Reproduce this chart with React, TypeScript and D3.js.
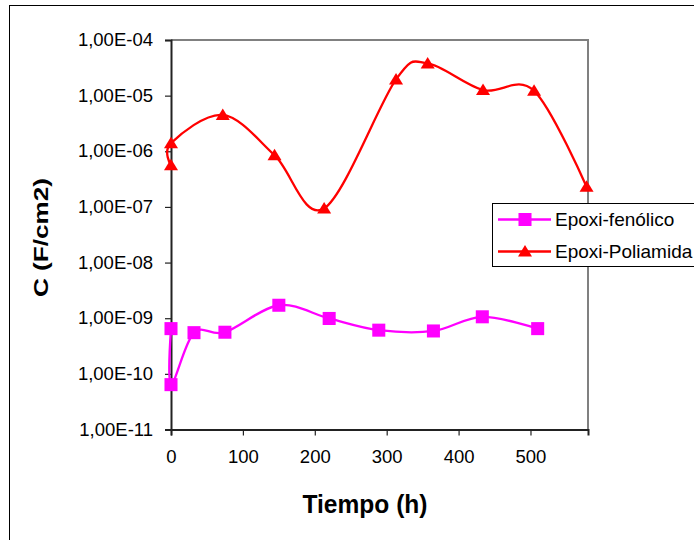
import React, { useEffect, useRef } from 'react'
import * as d3 from 'd3'

// time (h) and capacitance (F/cm2)
const fenolicoTime = [0, 0, 32, 75, 150, 220, 289, 365, 433, 510]
const fenolicoC = [6.5e-10, 6.4e-11, 5.5e-10, 5.6e-10, 1.71e-9, 9.9e-10, 6.1e-10, 5.9e-10, 1.06e-9, 6.5e-10]

const poliamidaTime = [0, 0, 72, 144, 213, 313, 357, 434, 505, 578]
const poliamidaC = [5.6e-7, 1.4e-6, 4.5e-6, 8.5e-7, 9.4e-8, 1.96e-5, 3.8e-5, 1.26e-5, 1.22e-5, 2.3e-7]

const xTicks = [0, 100, 200, 300, 400, 500]
const yTicks = [1e-11, 1e-10, 1e-9, 1e-8, 1e-7, 1e-6, 1e-5, 1e-4]

const seriesNames = ['Epoxi-fenólico', 'Epoxi-Poliamida']

const fmt = (d: number) => {
  const e = Math.round(Math.log10(d))
  const s = e < 0 ? '-' : '+'
  return `1,00E${s}${String(Math.abs(e)).padStart(2, '0')}`
}

export default function App() {
  const svgRef = useRef<SVGSVGElement>(null)

  useEffect(() => {
    const svg = d3.select(svgRef.current)
    svg.selectAll('*').remove()

    const width = 694
    const height = 540
    const left = 171, right = 588, top = 40, bottom = 429.5
    const font = '"Liberation Sans", Arial, sans-serif'

    svg.attr('width', width).attr('height', height)
    svg.append('rect').attr('width', width).attr('height', height).attr('fill', '#fff')

    // outer chart border (runs off the page right/bottom)
    svg.append('rect')
      .attr('x', 9.5).attr('y', 5.5)
      .attr('width', 720).attr('height', 600)
      .attr('fill', 'none').attr('stroke', '#000').attr('stroke-width', 1)

    const x = d3.scaleLinear().domain([0, 580]).range([left, right])
    const y = d3.scaleLog().domain([1e-11, 1e-4]).range([bottom, top])

    // plot area border (gray top/right)
    svg.append('path')
      .attr('d', `M${left},${top}H${right}V${bottom}`)
      .attr('fill', 'none').attr('stroke', '#808080').attr('stroke-width', 2)

    // y axis
    const yAxis = svg.append('g')
      .attr('transform', `translate(${left},0)`)
      .call(d3.axisLeft(y).tickValues(yTicks).tickFormat(d => fmt(+d)).tickSizeOuter(0).tickSize(6).tickPadding(12))
    yAxis.select('.domain').attr('stroke', '#222').attr('stroke-width', 2)
    yAxis.selectAll('.tick line').attr('stroke', '#222').attr('stroke-width', 1.2)
    yAxis.selectAll('.tick text')
      .attr('font-family', font).attr('font-size', 18.5).attr('fill', '#000')
      .attr('dy', '0.3em')

    // x axis
    const xAxis = svg.append('g')
      .attr('transform', `translate(0,${bottom})`)
      .call(d3.axisBottom(x).tickValues(xTicks).tickFormat(d3.format('d')).tickSizeOuter(0).tickSize(6).tickPadding(10))
    xAxis.select('.domain').attr('stroke', '#222').attr('stroke-width', 2)
    xAxis.selectAll('.tick line').attr('stroke', '#222').attr('stroke-width', 1.2)
    xAxis.selectAll('.tick text')
      .attr('font-family', font).attr('font-size', 18.5).attr('fill', '#000')
      .attr('dy', '0.95em')

    // axis titles
    svg.append('text')
      .attr('x', 365).attr('y', 513)
      .attr('text-anchor', 'middle')
      .attr('font-family', font).attr('font-weight', 'bold').attr('font-size', 25)
      .attr('textLength', 125).attr('lengthAdjust', 'spacingAndGlyphs')
      .text('Tiempo (h)')

    svg.append('text')
      .attr('transform', 'translate(48,237.5) rotate(-90)')
      .attr('text-anchor', 'middle')
      .attr('font-family', font).attr('font-weight', 'bold').attr('font-size', 21)
      .attr('textLength', 119).attr('lengthAdjust', 'spacingAndGlyphs')
      .text('C (F/cm2)')

    const line = d3.line<[number, number]>()
      .x(d => x(d[0]))
      .y(d => y(d[1]))
      .curve(d3.curveCatmullRom.alpha(0))

    const fenolico: [number, number][] = fenolicoTime.map((t, i) => [t, fenolicoC[i]])
    const poliamida: [number, number][] = poliamidaTime.map((t, i) => [t, poliamidaC[i]])

    const square = d3.symbol().type(d3.symbolSquare).size(170)()
    const triangle = 'M0,-6.5L7,5L-7,5Z'

    const series = [
      { name: seriesNames[0], data: fenolico, color: '#FF00FF', marker: square },
      { name: seriesNames[1], data: poliamida, color: '#FF0000', marker: triangle },
    ]

    series.forEach(s => {
      svg.append('path')
        .attr('d', line(s.data))
        .attr('fill', 'none')
        .attr('stroke', s.color)
        .attr('stroke-width', 2.3)

      svg.append('g').selectAll('path')
        .data(s.data)
        .join('path')
        .attr('d', s.marker)
        .attr('transform', d => `translate(${x(d[0])},${y(d[1])})`)
        .attr('fill', s.color)
    })

    // legend
    const legend = svg.append('g')
    legend.append('rect')
      .attr('x', 492.5).attr('y', 203.5)
      .attr('width', 220).attr('height', 63)
      .attr('fill', '#fff').attr('stroke', '#000').attr('stroke-width', 1)

    series.forEach((s, i) => {
      const ly = 219.5 + i * 32
      legend.append('line')
        .attr('x1', 498).attr('x2', 551)
        .attr('y1', ly).attr('y2', ly)
        .attr('stroke', s.color).attr('stroke-width', 2.3)
      legend.append('path')
        .attr('d', s.marker)
        .attr('transform', `translate(525,${ly})`)
        .attr('fill', s.color)
      legend.append('text')
        .attr('x', 555).attr('y', ly)
        .attr('dy', '0.35em')
        .attr('font-family', font).attr('font-size', 19)
        .attr('fill', '#000')
        .text(s.name)
    })
  }, [])

  return (
    <svg
      ref={svgRef}
      style={{ position: 'absolute', left: 0, top: 0, display: 'block' }}
    />
  )
}
